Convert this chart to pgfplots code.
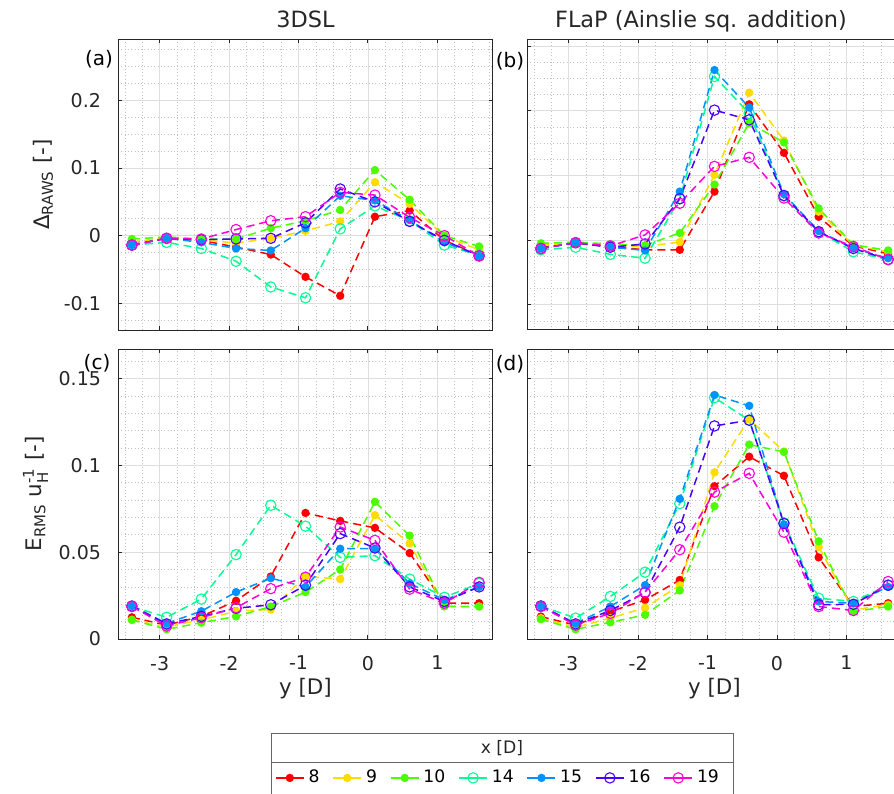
\documentclass[border=0pt]{standalone}
\usepackage{fontspec}
\setmainfont{DejaVu Sans}
\usepackage{amsmath}
\usepackage{pgfplots}
\usepackage{pgfplotstable}
\pgfplotsset{compat=1.18}

\definecolor{c8}{RGB}{255,0,0}
\definecolor{c9}{RGB}{255,219,0}
\definecolor{c10}{RGB}{73,255,0}
\definecolor{c14}{RGB}{0,255,146}
\definecolor{c15}{RGB}{0,146,255}
\definecolor{c16}{RGB}{73,0,255}
\definecolor{c19}{RGB}{255,0,219}
\definecolor{axgray}{RGB}{38,38,38}

% 3DSL, Delta RAWS
\pgfplotstableread{
y     s8     s9     s10    s14    s15    s16    s19
-3.4 -0.010 -0.009 -0.005 -0.014 -0.014 -0.014 -0.014
-2.9 -0.004 -0.004 -0.002 -0.010 -0.004 -0.004 -0.004
-2.4 -0.007 -0.006 -0.005 -0.019 -0.010 -0.006 -0.005
-1.9 -0.017 -0.011 -0.005 -0.038 -0.019 -0.005  0.009
-1.4 -0.028 -0.004  0.011 -0.076 -0.022 -0.004  0.022
-0.9 -0.061  0.007  0.022 -0.092  0.011  0.019  0.028
-0.4 -0.089  0.021  0.038  0.010  0.059  0.069  0.064
 0.1  0.028  0.079  0.097  0.044  0.052  0.050  0.060
 0.6  0.037  0.047  0.053  0.022  0.023  0.021  0.027
 1.1 -0.007 -0.001  0.000 -0.014 -0.010 -0.007  0.000
 1.6 -0.029 -0.021 -0.016 -0.029 -0.030 -0.030 -0.030
}\tabA

% FLaP, Delta RAWS
\pgfplotstableread{
y     s8     s9     s10    s14    s15    s16    s19
-3.4 -0.011 -0.008 -0.005 -0.015 -0.013 -0.013 -0.013
-2.9 -0.005 -0.004 -0.003 -0.011 -0.004 -0.004 -0.004
-2.4 -0.010 -0.008 -0.006 -0.022 -0.011 -0.011 -0.009
-1.9 -0.015 -0.010 -0.008 -0.028 -0.016 -0.006  0.008
-1.4 -0.015 -0.003  0.011  0.064  0.075  0.064  0.057
-0.9  0.075  0.101  0.086  0.253  0.263  0.201  0.114
-0.4  0.210  0.228  0.181  0.196  0.205  0.186  0.128
 0.1  0.135  0.154  0.151  0.068  0.071  0.069  0.065
 0.6  0.036  0.044  0.049  0.013  0.014  0.013  0.011
 1.1 -0.009 -0.008 -0.007 -0.018 -0.013 -0.013 -0.010
 1.6 -0.021 -0.018 -0.016 -0.030 -0.028 -0.030 -0.030
}\tabB

% 3DSL, E_RMS
\pgfplotstableread{
y     s8     s9     s10    s14    s15    s16    s19
-3.4 0.0125 0.0110 0.0110 0.0187 0.0190 0.0190 0.0187
-2.9 0.0080 0.0070 0.0056 0.0125 0.0090 0.0087 0.0075
-2.4 0.0130 0.0110 0.0094 0.0230 0.0160 0.0130 0.0123
-1.9 0.0220 0.0160 0.0130 0.0486 0.0270 0.0177 0.0180
-1.4 0.0360 0.0170 0.0187 0.0770 0.0350 0.0197 0.0290
-0.9 0.0726 0.0360 0.0270 0.0650 0.0300 0.0310 0.0356
-0.4 0.0680 0.0345 0.0400 0.0470 0.0520 0.0607 0.0645
 0.1 0.0640 0.0713 0.0790 0.0480 0.0520 0.0524 0.0568
 0.6 0.0495 0.0550 0.0595 0.0345 0.0320 0.0300 0.0287
 1.1 0.0206 0.0190 0.0187 0.0240 0.0225 0.0216 0.0206
 1.6 0.0206 0.0187 0.0187 0.0320 0.0300 0.0300 0.0326
}\tabC

% FLaP, E_RMS
\pgfplotstableread{
y     s8     s9     s10    s14    s15    s16    s19
-3.4 0.0129 0.0120 0.0114 0.0190 0.0190 0.0190 0.0187
-2.9 0.0080 0.0067 0.0056 0.0120 0.0090 0.0087 0.0080
-2.4 0.0158 0.0120 0.0096 0.0245 0.0187 0.0164 0.0148
-1.9 0.0225 0.0180 0.0139 0.0385 0.0310 0.0268 0.0270
-1.4 0.0340 0.0310 0.0280 0.0780 0.0807 0.0644 0.0514
-0.9 0.0880 0.0960 0.0765 0.1390 0.1405 0.1227 0.0846
-0.4 0.1050 0.1266 0.1120 0.1260 0.1343 0.1260 0.0954
 0.1 0.0940 0.1080 0.1077 0.0669 0.0660 0.0665 0.0615
 0.6 0.0470 0.0530 0.0563 0.0235 0.0216 0.0197 0.0187
 1.1 0.0187 0.0168 0.0158 0.0216 0.0206 0.0200 0.0164
 1.6 0.0206 0.0197 0.0187 0.0310 0.0300 0.0310 0.0331
}\tabD

\pgfplotsset{
  panel/.style={
    scale only axis, width=187.5pt,
    xmin=-3.6, xmax=1.8,
    xtick={-3,-2,-1,0,1},
    minor xtick={-3.5,-3.25,...,1.75},
    grid=both,
    major grid style={color=black!13, line width=0.4pt},
    minor grid style={color=black!24, line width=0.35pt, dash pattern=on 0.35pt off 1.3pt},
    axis line style={color=axgray, line width=0.5pt},
    tick align=inside, major tick length=2.2pt, minor tick length=0pt,
    tick style={color=axgray, line width=0.5pt},
    ticklabel style={font=\fontsize{9.5}{11}\selectfont, color=axgray},
    xticklabel style={yshift=-5pt},
    yticklabel style={xshift=-5pt},
    every axis plot/.append style={line width=0.75pt, dash pattern=on 4pt off 2.5pt},
    label style={font=\fontsize{10.7}{12}\selectfont, color=axgray},
  },
  toprow/.style={height=145.5pt, xticklabels={}},
  botrow/.style={height=145pt, ymin=0, ymax=0.167,
    ytick={0,0.05,0.1,0.15}, minor ytick={0,0.01,...,0.16}},
  filled/.style={color=#1, mark=*, mark size=1.7pt, mark options={solid, fill=#1}},
  open/.style={color=#1, mark=o, mark size=2.6pt, mark options={solid, line width=0.55pt}},
  legend image code/.code={%
    \draw[mark repeat=2, mark phase=2, #1, solid]
      plot coordinates {(0pt,0pt) (7pt,0pt) (14pt,0pt)};},
}

\newcommand{\allseries}[1]{%
  \addplot[filled=c8]  table[x=y,y=s8]  {#1};
  \addplot[filled=c9]  table[x=y,y=s9]  {#1};
  \addplot[filled=c10] table[x=y,y=s10] {#1};
  \addplot[open=c14]   table[x=y,y=s14] {#1};
  \addplot[filled=c15] table[x=y,y=s15] {#1};
  \addplot[open=c16]   table[x=y,y=s16] {#1};
  \addplot[open=c19]   table[x=y,y=s19] {#1};
}

\begin{document}
\begin{tikzpicture}
\path[use as bounding box] (0,0) rectangle (447pt,-396.5pt);
\clip (0,0) rectangle (447pt,-396.5pt);

% (a)
\begin{axis}[panel, toprow, at={(59pt,-19.5pt)}, anchor=north west,
  ymin=-0.1397, ymax=0.291,
  ytick={-0.1,0,0.1,0.2}, yticklabels={-0.1,0,0.1,0.2},
  minor ytick={-0.125,-0.1,...,0.275},
  ylabel={Δ\textsubscript{RAWS} [-]},
  ylabel style={at={(axis description cs:-0.2,0.5)}, anchor=center}]
\allseries{\tabA}
\end{axis}

% (b)
\begin{axis}[panel, toprow, at={(263.5pt,-19.5pt)}, anchor=north west,
  ymin=-0.139, ymax=0.311,
  ytick={-0.1,0,0.1,0.2,0.3}, yticklabels={},
  minor ytick={-0.125,-0.1,...,0.3}]
\allseries{\tabB}
\end{axis}

% (c)
\begin{axis}[panel, botrow, at={(59pt,-174.5pt)}, anchor=north west,
  xticklabels={-3,-2,-1,0,1},
  yticklabels={0,0.05,0.1,0.15},
  xlabel={y [D]},
  xlabel style={at={(axis description cs:0.5,-0.19)}, anchor=base},
  ylabel={E\textsubscript{RMS} $\text{u}_{\text{H}}^{\text{-1}}$ [-]},
  ylabel style={at={(axis description cs:-0.22,0.5)}, anchor=center},
  legend columns=7,
  legend style={at={(axis description cs:1.016,-0.479)}, anchor=center,
    draw=none, fill=none, font=\fontsize{8.6}{10}\selectfont,
    /tikz/every even column/.append style={column sep=4.5pt}}]
\allseries{\tabC}
\legend{8,9,10,14,15,16,19}
\end{axis}

% (d)
\begin{axis}[panel, botrow, at={(263.5pt,-174.5pt)}, anchor=north west,
  xticklabels={-3,-2,-1,0,1}, yticklabels={},
  xlabel={y [D]},
  xlabel style={at={(axis description cs:0.5,-0.19)}, anchor=base}]
\allseries{\tabD}
\end{axis}

% titles and panel tags
\node[anchor=base, font=\fontsize{11.2}{13}\selectfont, text=axgray] at (152.75pt,-13.5pt) {3DSL};
\node[anchor=base, font=\fontsize{11.2}{13}\selectfont, text=axgray] at (350.5pt,-13.5pt) {FLaP (Ainslie sq. addition)};
\begin{scope}[every node/.style={font=\fontsize{10}{12}\selectfont, text=black}]
\node at (49.5pt,-29.5pt) {(a)};
\node at (255pt,-30.5pt) {(b)};
\node at (48.5pt,-181.5pt) {(c)};
\node at (255pt,-182pt) {(d)};
\end{scope}

% legend frame with title row
\draw[black!60, line width=0.5pt] (135.5pt,-402pt) -- (135.5pt,-366.5pt) -- (366.5pt,-366.5pt) -- (366.5pt,-402pt);
\draw[black!60, line width=0.5pt] (135.5pt,-381.3pt) -- (366.5pt,-381.3pt);
\node[font=\fontsize{8.6}{10}\selectfont, text=axgray] at (251pt,-374pt) {x [D]};
\end{tikzpicture}
\end{document}
